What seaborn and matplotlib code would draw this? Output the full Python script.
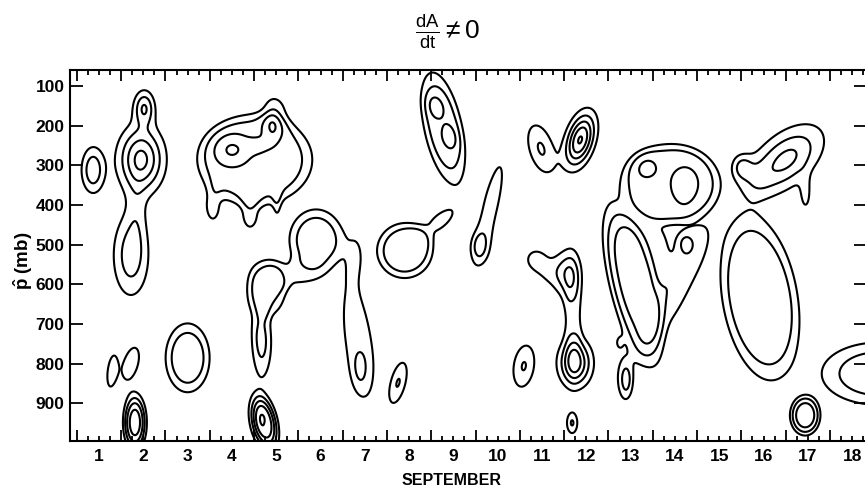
import numpy as np
import matplotlib
matplotlib.use("Agg")
import matplotlib.pyplot as plt
import seaborn as sns
from matplotlib.ticker import FixedLocator, FuncFormatter, NullFormatter

# Analysed cells of the dA/dt field: centre (day of September, pressure in mb),
# peak value, spread along each axis, tilt (days per mb) and flatness of the top.
cell_day = [0.865, 1.95, 2.02, 1.72, 1.85, 1.29, 1.72, 1.81, 3.0, 4.74, 4.58,
            4.52, 4.0, 4.59, 4.91, 4.97, 3.57, 4.41, 5.02,
            4.80, 4.68, 4.45, 5.90, 5.40, 6.78, 6.85, 6.89,
            8.77, 8.58, 8.92, 7.9, 8.7, 9.58, 9.85, 9.6,
            10.98, 11.86, 11.59, 11.75, 11.7, 10.85, 11.2,
            10.59, 7.75, 11.68,
            13.89, 13.33, 14.23, 13.05, 12.74, 12.9, 12.85, 14.12, 14.23, 13.6,
            13.2, 14.3,
            15.92, 16.5, 15.51, 16.95, 15.8, 16.94, 18.6]
cell_pres = [312, 285, 155, 527, 420, 818, 800, 948, 785, 950, 925,
             286, 261, 251, 201, 173, 400, 420, 400,
             610, 745, 650, 488, 575, 526, 740, 816,
             206, 150, 229, 515, 440, 503, 400, 510,
             258, 236, 576, 798, 680, 535, 570,
             806, 848, 949,
             344, 304, 344, 600, 745, 841, 830, 590, 496, 560,
             470, 470,
             634, 286, 304, 375, 340, 930, 825]
cell_amp = [2.8, 4.3, 2.9, 2.6, 0.8, 1.5, 1.5, 4.5, 2.6, 4.5, 0.8,
            2.4, 1.75, 0.8, 1.0, 1.5, 1.6, 1.6, 1.2,
            2.2, 2.1, 0.6, 2.6, 1.1, 1.2, 1.5, 1.0,
            2.6, 1.0, 1.0, 2.35, 1.2, 1.1, 1.35, 1.0,
            2.1, 5.1, 2.3, 4.2, 1.3, 1.2, 1.1,
            2.06, 2.06, 2.1,
            2.3, 1.0, 1.0, 3.3, 0.8, 1.7, 1.0, 1.3, 1.3, 1.3,
            1.0, 0.6,
            2.6, 3.3, 1.9, 1.2, 0.8, 3.5, 2.8]
cell_day_width = [0.18, 0.34, 0.16, 0.28, 0.15, 0.10, 0.18, 0.167, 0.355, 0.19, 0.18,
                  0.93, 0.31, 0.18, 0.14, 0.23, 0.14, 0.16, 0.08,
                  0.30, 0.16, 0.15, 0.43, 0.56, 0.18, 0.27, 0.14,
                  0.31, 0.15, 0.13, 0.45, 0.32, 0.10, 0.16, 0.25,
                  0.22, 0.21, 0.2, 0.25, 0.15, 0.2, 0.3,
                  0.19, 0.14, 0.095,
                  0.80, 0.23, 0.35, 0.36, 0.08, 0.09, 0.2, 0.3, 0.12, 0.3,
                  0.35, 0.25,
                  0.61, 0.48, 0.16, 0.10, 0.25, 0.23, 0.9]
cell_pres_width = [40, 55, 30, 72, 60, 39, 44, 46, 62, 46, 50,
                   82, 30, 15, 35, 38, 35, 35, 30,
                   50, 65, 70, 55, 30, 50, 120, 39,
                   100, 23, 23, 50, 45, 20, 100, 40,
                   48, 45, 45, 40, 100, 22, 30,
                   43, 42, 21,
                   70, 27, 47, 139, 15, 28, 60, 120, 18, 80,
                   50, 50,
                   148, 58, 22, 35, 35, 34, 55]
cell_tilt = [0, 0, 0, 0, 0, -0.001, -0.002, 0, 0, 0.0015, 0,
             0, 0, 0, 0, 0, 0, 0, 0,
             0, 0, 0, 0, 0, 0, 0.0012, 0,
             0.0017, 0.0015, 0.0015, 0, -0.007, 0, -0.002, 0,
             0.002, -0.002, 0, 0, 0, 0, 0,
             -0.001, -0.002, 0,
             0, 0, 0, 0.002, 0, 0, 0, -0.0044, 0, 0,
             0, 0,
             0.0012, -0.005, 0, 0, 0, 0, 0]
cell_sharp = [1, 1, 1, 1, 1, 1, 1, 1.5, 2, 1.5, 1,
              4, 1, 1, 1, 1, 1, 1, 1,
              2, 1.5, 1, 2, 1.5, 1, 1.5, 1,
              2, 1, 1, 3, 1, 1, 1.5, 1,
              1, 1, 1, 1, 1.5, 1, 1,
              1, 1, 1,
              4, 1, 1, 2, 1, 1, 1, 1.5, 1, 1,
              1, 1,
              3, 1, 1, 1, 1, 2, 1.5]

contour_levels = [1, 2, 3, 4, 5]
day_labels = list(range(1, 19))
pressure_ticks = [100, 200, 300, 400, 500, 600, 700, 800, 900]

sns.set_theme(style="ticks")
plt.rcParams["font.family"] = ["Liberation Sans", "DejaVu Sans"]
plt.rcParams["font.weight"] = "bold"
plt.rcParams["mathtext.fontset"] = "custom"
plt.rcParams["mathtext.rm"] = "Liberation Sans:regular"
plt.rcParams["mathtext.it"] = "Liberation Sans:italic:regular"
plt.rcParams["mathtext.bf"] = "Liberation Sans:bold"

# gridded field built from the cells
days = np.linspace(0.2, 19.0, 1300)
pres = np.linspace(40, 1010, 700)
D, P = np.meshgrid(days, pres)
field = np.zeros_like(D)
for d0, p0, a, sd, sp, t, k in zip(cell_day, cell_pres, cell_amp, cell_day_width,
                                   cell_pres_width, cell_tilt, cell_sharp):
    u = (D - d0 - t * (P - p0)) / sd
    v = (P - p0) / sp
    field += a * np.exp(-(0.5 * (u ** 2 + v ** 2)) ** k)

fig = plt.figure(figsize=(8.65, 4.88), dpi=100)
ax = fig.add_axes([70 / 865, 1 - 441 / 488, (867 - 70) / 865, (441 - 70) / 488])

ax.contour(D, P, field, levels=contour_levels, colors="black", linewidths=1.5)

ax.set_xlim(0.345, 1 + (867 - 99) / 44.3)
ax.set_ylim(994.6, 59.7)

# day boundaries get long ticks, 6-hourly marks short ones, labels sit at midday
boundaries = np.arange(0.5, 19.0, 1.0)
quarters = [q for q in np.arange(0.25, 18.8, 0.25) if abs((q - 0.5) % 1.0) > 1e-6]
ax.xaxis.set_major_locator(FixedLocator(boundaries))
ax.xaxis.set_major_formatter(NullFormatter())
ax.xaxis.set_minor_locator(FixedLocator(quarters))
ax.xaxis.set_minor_formatter(FuncFormatter(
    lambda x, pos: str(int(round(x))) if abs(x - round(x)) < 1e-6 and int(round(x)) in day_labels else ""))
ax.tick_params(axis="x", which="both", direction="in", top=True, bottom=True, width=1.3, color="black")
ax.tick_params(axis="x", which="major", length=7.7)
ax.tick_params(axis="x", which="minor", length=3.6, labelsize=12.5, pad=6, labelcolor="black")

ax.set_yticks(pressure_ticks)
ax.set_yticklabels([str(p) for p in pressure_ticks])
ax.tick_params(axis="y", which="both", direction="in", left=True, right=True, length=9.4,
               width=1.3, labelsize=12.5, pad=4, color="black", labelcolor="black")

for s in ax.spines.values():
    s.set_linewidth(1.5)
    s.set_color("black")

ax.set_xlabel("SEPTEMBER", fontsize=11.5, fontweight="bold", color="black")
ax.xaxis.set_label_coords((452 - 70) / 797, (441 - 473) / 371)
ax.set_ylabel(r"$\mathbf{\hat{p}}$ (mb)", fontsize=13.5, fontweight="bold", color="black")
ax.yaxis.set_label_coords((35 - 70) / 797, (441 - 261) / 371)

fig.text(447 / 865, 1 - 32 / 488, r"$\frac{\mathrm{dA}}{\mathrm{dt}}\neq0$",
         ha="center", va="center", fontsize=19, color="black")

fig.savefig("out.png", dpi=100, facecolor="white")
